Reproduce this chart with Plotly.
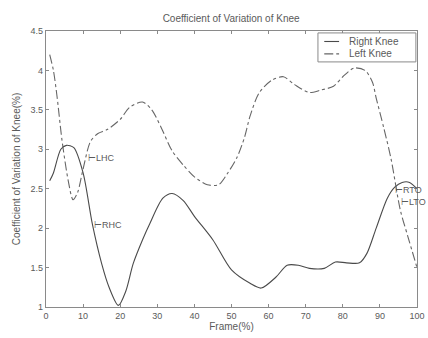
import plotly.graph_objects as go

# Coefficient of variation of knee angle over the gait cycle
frame_right = [1, 2, 4, 5.5, 7.5, 10, 12.5, 15, 17, 19.5, 21.5, 23.5, 26, 28, 31.5, 34,
               37, 40, 45, 50, 55, 58, 62, 65, 68, 71, 75, 78, 81, 84.5, 86.5, 89, 92,
               94, 96, 98, 100]
right_knee = [2.6, 2.7, 3.0, 3.05, 3.02, 2.7, 2.05, 1.55, 1.25, 1.02, 1.2, 1.55, 1.85,
              2.06, 2.38, 2.44, 2.35, 2.15, 1.85, 1.47, 1.3, 1.24, 1.38, 1.53, 1.53, 1.49,
              1.49, 1.57, 1.56, 1.56, 1.68, 2.0, 2.38, 2.52, 2.58, 2.58, 2.5]

frame_left = [1, 2, 3, 4.3, 6, 7.3, 8.5, 10, 12, 14, 16.5, 20, 22.5, 26, 28.5, 31, 34, 37,
              40, 43.5, 46.5, 49, 51.5, 53.5, 55, 57.5, 61, 64, 67, 71, 74, 77.5, 80, 83,
              86, 88, 89, 91, 93, 95.5, 97.5, 100]
left_knee = [4.2, 4.0, 3.66, 3.12, 2.6, 2.36, 2.45, 2.75, 3.1, 3.2, 3.25, 3.38, 3.53, 3.6,
             3.5, 3.28, 2.98, 2.8, 2.65, 2.55, 2.55, 2.7, 2.9, 3.15, 3.42, 3.72, 3.88, 3.92,
             3.82, 3.72, 3.75, 3.8, 3.92, 4.03, 4.0, 3.85, 3.65, 3.28, 2.88, 2.23, 1.9, 1.5]

series_names = ["Right Knee", "Left Knee"]

# Gait event markers: heel contact / toe off
event_labels = ["\u22a2LHC", "\u22a2RHC", "\u22a2RTO", "\u22a2LTO"]
event_frame = [10.8, 12.3, 93.6, 95.2]
event_value = [2.89, 2.04, 2.48, 2.33]

x_ticks = [0, 10, 20, 30, 40, 50, 60, 70, 80, 90, 100]
y_ticks = [1, 1.5, 2, 2.5, 3, 3.5, 4, 4.5]

right_col = "#4a4a4a"
left_col = "#666666"
axis_col = "#8a8a8a"
txt_col = "#5a5a5a"
font_family = "Arial, Liberation Sans, sans-serif"
right_style = dict(color=right_col, width=1.1)
left_style = dict(color=left_col, width=1.1, dash="dashdot")

fig = go.Figure()
fig.add_trace(go.Scatter(x=frame_right, y=right_knee, mode="lines", name=series_names[0],
                         showlegend=False,
                         line=dict(**right_style, shape="spline", smoothing=0.8)))
fig.add_trace(go.Scatter(x=frame_left, y=left_knee, mode="lines", name=series_names[1],
                         showlegend=False,
                         line=dict(**left_style, shape="spline", smoothing=0.8)))

for lab, fx, fy in zip(event_labels, event_frame, event_value):
    fig.add_annotation(x=fx, y=fy, text=lab, showarrow=False, xanchor="left",
                       yanchor="middle", font=dict(size=9, color=txt_col, family=font_family))

# Compact boxed legend in the upper-right corner of the axes
fig.add_shape(type="rect", xref="paper", yref="paper", x0=0.733, x1=0.997,
              y0=0.888, y1=0.993, line=dict(color=axis_col, width=1), fillcolor="white",
              layer="above")
for i, (name, style) in enumerate(zip(series_names, [right_style, left_style])):
    yy = 0.962 - i * 0.045
    fig.add_shape(type="line", xref="paper", yref="paper", x0=0.75, x1=0.79,
                  y0=yy, y1=yy, line=style, layer="above")
    fig.add_annotation(xref="paper", yref="paper", x=0.812, y=yy, text=name,
                       showarrow=False, xanchor="left", yanchor="middle",
                       font=dict(size=10, color=txt_col, family=font_family))

axis_common = dict(showline=True, linecolor=axis_col, linewidth=1.2, mirror="ticks",
                   ticks="inside", ticklen=3, tickcolor=axis_col, showgrid=False,
                   zeroline=False, automargin=False,
                   tickfont=dict(size=9, color=txt_col, family=font_family))

fig.update_xaxes(range=[0, 100], tickvals=x_ticks, ticktext=[str(v) for v in x_ticks],
                 title=dict(text="Frame(%)", font=dict(size=10, color=txt_col), standoff=3),
                 **axis_common)
fig.update_yaxes(range=[1, 4.5], tickvals=y_ticks, ticktext=[f"{v:g}" for v in y_ticks],
                 title=dict(text="Coefficient of Variation of Knee(%)",
                            font=dict(size=10, color=txt_col), standoff=8),
                 **axis_common)

fig.update_layout(
    width=428, height=338,
    margin=dict(l=46, r=11, t=31, b=31),
    paper_bgcolor="white", plot_bgcolor="white",
    font=dict(family=font_family, color=txt_col),
    title=dict(text="Coefficient of Variation of Knee", x=0.54, xanchor="center",
               y=0.945, yanchor="middle", font=dict(size=10, color=txt_col)),
    showlegend=False,
)

fig.write_html("out.html")
